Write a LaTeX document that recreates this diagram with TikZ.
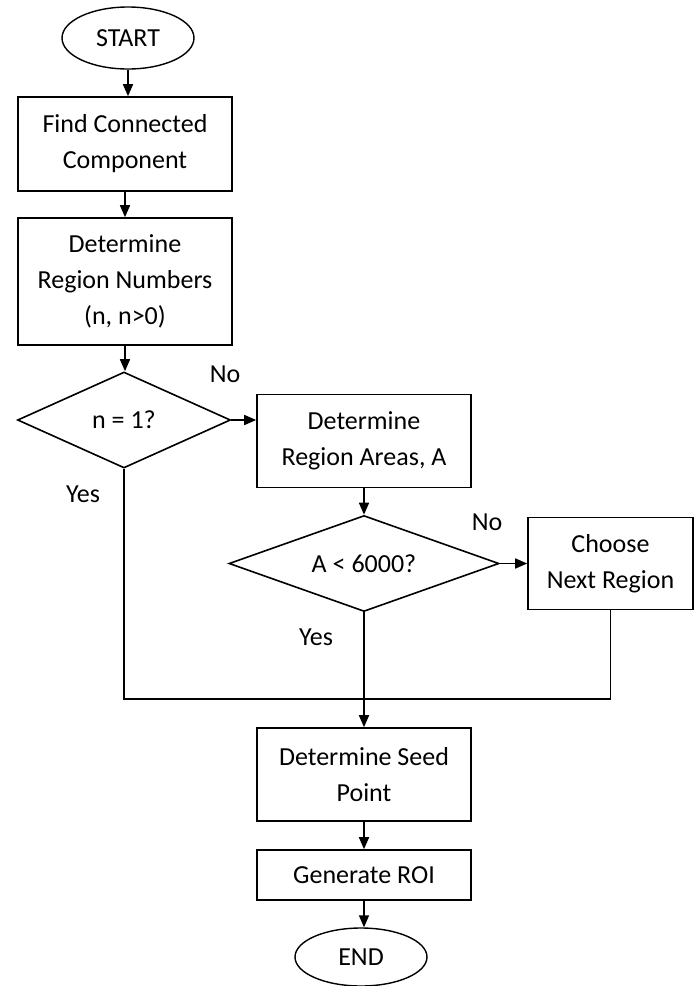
\documentclass[tikz,border=0pt]{standalone}
\usepackage{fontspec}
\setmainfont{Carlito}
\usetikzlibrary{positioning,shapes.geometric,arrows.meta}

\begin{document}
\begin{tikzpicture}[x=0.5pt, y=-0.5pt,
    box/.style={draw, line width=0.8pt, align=center, inner sep=0pt,
                font=\fontsize{13}{18}\selectfont},
    term/.style={ellipse, draw, line width=0.7pt, inner sep=0pt,
                 font=\fontsize{13}{18}\selectfont},
    decision/.style={diamond, draw, line width=0.8pt, inner sep=0pt,
                     font=\fontsize{13}{18}\selectfont},
    lbl/.style={font=\fontsize{13}{18}\selectfont},
    arrow/.style={-{Triangle[width=5pt,length=6pt]}, line width=0.8pt},
    line/.style={line width=0.8pt}
  ]
    \useasboundingbox (0,0) rectangle (696,986);
    \node[term, minimum width=66pt, minimum height=31pt] (start) at (128,38) {START};
    \node[box, minimum width=107pt, minimum height=47pt] (find) at (125,144) {Find Connected\\Component};
    \node[box, minimum width=107pt, minimum height=63.5pt] (regnum) at (125,281.5) {Determine\\Region Numbers\\(n, n>0)};
    \node[decision, aspect=2.2, minimum width=106.5pt, minimum height=48pt] (dec1) at (124,420) {n = 1?};
    \node[box, minimum width=107pt, minimum height=46.5pt] (areas) at (364,441) {Determine\\Region Areas, A};
    \node[decision, aspect=2.8, minimum width=135pt, minimum height=48pt] (dec2) at (364,563.5) {A < 6000?};
    \node[box, minimum width=82.5pt, minimum height=46pt] (next) at (610.5,563.5) {Choose\\Next Region};
    \node[box, minimum width=107pt, minimum height=46.5pt] (seed) at (364,774.5) {Determine Seed\\Point};
    \node[box, minimum width=107pt, minimum height=25pt] (roi) at (364,875) {Generate ROI};
    \node[term, minimum width=66pt, minimum height=29pt] (end) at (361,957) {END};
    \coordinate (join) at (364,699);

    \node[lbl] (no1) at (225,374) {No};
    \node[lbl] (yes1) at (83,494) {Yes};
    \node[lbl] (no2) at (487,522) {No};
    \node[lbl] (yes2) at (316,637) {Yes};

    \draw[arrow] (start.south) -- (start.south |- find.north);
    \draw[arrow] (find) -- (regnum);
    \draw[arrow] (regnum.south) -- (regnum.south |- dec1.north);
    \draw[arrow] (dec1.east) -- (dec1.east -| areas.west);
    \draw[arrow] (areas) -- (dec2);
    \draw[arrow] (dec2) -- (next);
    \draw[line] (dec1.south) |- (join);
    \draw[line] (next.south) |- (join);
    \draw[arrow] (dec2) -- (seed);
    \draw[arrow] (seed) -- (roi);
    \draw[arrow] (roi.south) -- (roi.south |- end.north);
\end{tikzpicture}
\end{document}
